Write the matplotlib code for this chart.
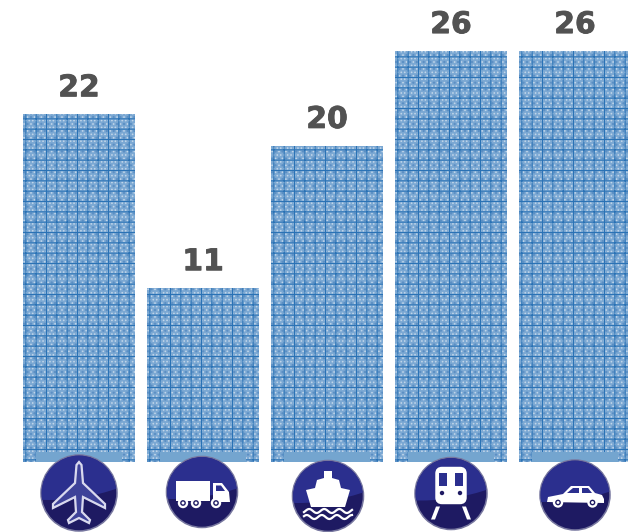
import numpy as np
import matplotlib
matplotlib.use("Agg")
import matplotlib.pyplot as plt
import matplotlib.patheffects as pe
from matplotlib.patches import Circle, Polygon, Rectangle, FancyBboxPatch

# Shipment counts per transport mode
modes = ["Air", "Truck", "Ship", "Rail", "Car"]
counts = [22, 11, 20, 26, 26]

DPI = 124
W, H = 628, 532
BASE_Y, TOP_Y = 462, 51     # pixel rows of zero and of the largest count
FIRST_X, STEP, BAR_W = 79, 124, 112

BAR_FILL = "#7ba8d3"
GRID_BLUE = "#2a72b5"
LABEL_GREY = "#525252"
DISC_LIGHT = "#2b2f8e"
DISC_DARK = "#1e1a62"
RIM = "#77779f"

plt.rcParams["hatch.linewidth"] = 0.6
plt.rcParams["font.family"] = ["DejaVu Sans"]

fig = plt.figure(figsize=(W / DPI + 1e-6, H / DPI + 1e-6), dpi=DPI, facecolor="white")
ax = fig.add_axes([0, 0, 1, 1])
px_per_unit = (BASE_Y - TOP_Y) / max(counts)
ax.set_xlim(-FIRST_X / STEP, (W - FIRST_X) / STEP)
ax.set_ylim(-(H - BASE_Y) / px_per_unit, BASE_Y / px_per_unit)
ax.axis("off")

positions = np.arange(len(counts))
# Speckle in two tints beneath the blue lattice
ax.bar(positions, counts, width=BAR_W / STEP, color=BAR_FILL, hatch="......",
       edgecolor="#c3d7ea", linewidth=0)
ax.bar(positions, counts, width=BAR_W / STEP, color="none", hatch="...",
       edgecolor="#5b8fc4", linewidth=0)
ax.bar(positions, counts, width=BAR_W / STEP, color="none", hatch="++",
       edgecolor=GRID_BLUE, linewidth=0)

for x, v in zip(positions, counts):
    ax.annotate(str(v), (x, v), xytext=(0, 10.4), textcoords="offset points",
                ha="center", va="baseline", fontsize=17.3, fontweight="bold",
                color=LABEL_GREY,
                path_effects=[pe.withStroke(linewidth=0.5, foreground=LABEL_GREY)])

# Overlay in pixel coordinates for the transport badges
icons = fig.add_axes([0, 0, 1, 1], facecolor="none")
icons.set_xlim(0, W)
icons.set_ylim(H, 0)
icons.axis("off")

# Pale strip where each badge meets its bar
for i in positions:
    left = FIRST_X + STEP * i - BAR_W / 2
    icons.add_patch(Rectangle((left + 12.5, 452), BAR_W - 25.5, 10,
                              facecolor="#74a5cf", edgecolor="none"))


def disc(cx, cy, r):
    base = Circle((cx, cy), r, facecolor=DISC_DARK, edgecolor=RIM, linewidth=0.9, zorder=3)
    icons.add_patch(base)
    gloss = Circle((cx - 30, cy - 200), 207, facecolor=DISC_LIGHT, edgecolor="none", zorder=3.1)
    icons.add_patch(gloss)
    gloss.set_clip_path(Circle((cx, cy), r - 0.5, transform=icons.transData))


def shape(cx, cy, pts, **kw):
    pts = np.asarray(pts, float) + (cx, cy)
    kw.setdefault("facecolor", "white")
    kw.setdefault("edgecolor", "none")
    kw.setdefault("zorder", 4)
    icons.add_patch(Polygon(pts, closed=True, **kw))


def wheel(x, y, r=5.2):
    icons.add_patch(Circle((x, y), r, facecolor="white", edgecolor="none", zorder=5))
    icons.add_patch(Circle((x, y), r * 0.55, facecolor=DISC_DARK, edgecolor="none", zorder=5.1))
    icons.add_patch(Circle((x, y), r * 0.28, facecolor="white", edgecolor="none", zorder=5.2))


# Plane
cx, cy = 79, 493
disc(cx, cy, 38)
half = [(0, -31), (2.5, -28), (4, -10), (26, 11), (26, 15), (4, 4), (3, 19),
        (11, 27), (10, 30), (0, 25)]
outline = half + [(-x, y) for x, y in half[-2:0:-1]]
shape(cx, cy, outline, facecolor="#3e4299", edgecolor="#d9d9ee", linewidth=1.3)

# Truck
cx, cy = 202, 492
disc(cx, cy, 35.5)
shape(cx, cy, [(-26, -11), (8, -11), (8, 9), (-26, 9)])
shape(cx, cy, [(11, -9), (20, -9), (27, 0), (28, 10), (11, 10)])
shape(cx, cy, [(14, -6.5), (19, -6.5), (23, -1), (14, -1)], facecolor=DISC_LIGHT, zorder=4.5)
for dx in (-19, -6, 14):
    wheel(cx + dx, cy + 11)

# Ship
cx, cy = 328, 496
disc(cx, cy, 35.5)
shape(cx, cy, [(-22, -6), (-13, -8), (-11, -16), (-4, -18), (-4, -25), (4, -25), (4, -18),
               (11, -16), (13, -8), (22, -6), (17, 11), (-17, 11)])
for k, dy in enumerate((15, 21)):
    wx = np.linspace(-24, 24, 60)
    wy = cy + dy + 2 * np.sin(wx / 2.4 + k)
    icons.plot(cx + wx, wy, color="white", lw=1.3, zorder=4)

# Train
cx, cy = 451, 493.5
disc(cx, cy, 36)
icons.add_patch(FancyBboxPatch((cx - 14, cy - 25), 28, 34, boxstyle="round,pad=0,rounding_size=5",
                               facecolor="white", edgecolor="white", linewidth=2, zorder=4))
for dx in (-12, 4):
    shape(cx, cy, [(dx, -20), (dx + 8, -20), (dx + 8, -7), (dx, -7)], facecolor=DISC_LIGHT, zorder=4.5)
    icons.add_patch(Circle((cx + dx + 3 if dx < 0 else cx + dx + 5, cy - 0.5), 2.2,
                           facecolor=DISC_DARK, edgecolor="none", zorder=4.5))
for sign in (-1, 1):
    shape(cx, cy, [(sign * 11, 13), (sign * 15, 13), (sign * 20, 26), (sign * 16, 26)], zorder=4)

# Car
cx, cy = 575, 495
disc(cx, cy, 35)
shape(cx, cy, [(-28, 7), (-27, 2), (-12, -1), (-4, -9), (14, -9), (20, -2), (27, 0), (29, 4), (29, 8)])
shape(cx, cy, [(-8, -2), (-2, -7), (4, -7), (4, -2)], facecolor=DISC_LIGHT, zorder=4.5)
shape(cx, cy, [(7, -7), (13, -7), (17, -2), (7, -2)], facecolor=DISC_LIGHT, zorder=4.5)
for dx in (-17, 17.5):
    wheel(cx + dx, cy + 7.5)

fig.savefig("out.png", dpi=DPI, facecolor="white")
